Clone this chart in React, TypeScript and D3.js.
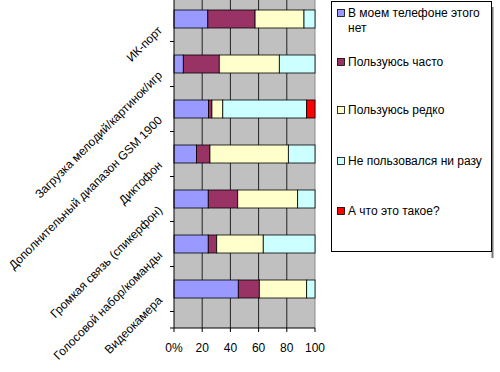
import React from "react";
import * as d3 from "d3";

// categories, top to bottom as shown
const categories = [
  "ИК-порт",
  "Загрузка мелодий/картинок/игр",
  "Дополнительный диапазон GSM 1900",
  "Диктофон",
  "Громкая связь (спикерфон)",
  "Голосовой набор/команды",
  "Видеокамера",
];

const seriesNames = [
  "В моем телефоне этого нет",
  "Пользуюсь часто",
  "Пользуюсь редко",
  "Не пользовался ни разу",
  "А что это такое?",
];

// percent values per category
const noFeature = [24, 6.6, 24.5, 16, 24.3, 24.3, 45.6];
const useOften = [33.5, 25.5, 2.4, 9.5, 20.9, 6, 14.9];
const useRarely = [34.7, 42.6, 7.7, 55.6, 42.5, 33, 33.6];
const neverUsed = [7.8, 25.3, 59.5, 18.9, 12.3, 36.7, 5.9];
const whatIsIt = [0, 0, 5.9, 0, 0, 0, 0];

const xTicks = [0, 20, 40, 60, 80, 100];
const xTickLabels = ["0%", "20", "40", "60", "80", "100"];

const colors = ["#9999FF", "#993366", "#FFFFCC", "#CCFFFF", "#FF0000"];

const font = "Arial, 'Liberation Sans', sans-serif";

// break legend text into lines of at most n chars
function wrap(text: string, n: number) {
  const words = text.split(" ");
  const lines: string[] = [];
  let cur = "";
  words.forEach((w) => {
    const next = cur ? cur + " " + w : w;
    if (next.length > n && cur) {
      lines.push(cur);
      cur = w;
    } else cur = next;
  });
  if (cur) lines.push(cur);
  return lines;
}

export default function App() {
  const width = 500;
  const height = 372;

  const plot = { left: 174, right: 315, top: 0, bottom: 328 };

  const x = d3.scaleLinear().domain([0, 1]).range([plot.left, plot.right]);
  const y = d3
    .scaleBand<string>()
    .domain(categories)
    .range([-3.5, 311.5])
    .paddingInner(0.6)
    .paddingOuter(0.3);

  const allSeries = [noFeature, useOften, useRarely, neverUsed, whatIsIt];
  const rows = categories.map((c, i) => {
    const r: any = { cat: c };
    seriesNames.forEach((s, j) => (r[s] = allSeries[j][i]));
    return r;
  });
  const stacked = d3
    .stack<any>()
    .keys(seriesNames)
    .offset(d3.stackOffsetExpand)(rows);

  const step = y.step();
  const bandEdges = categories.map((c) => (y(c) as number) + y.bandwidth() + step * 0.3);

  const legendY = [13, 62, 110, 161, 211];

  return (
    <div style={{ position: "absolute", left: 0, top: 0 }}>
      <svg width={width} height={height} style={{ display: "block", background: "#fff" }}>
        {/* plot area */}
        <rect
          x={plot.left}
          y={plot.top}
          width={plot.right - plot.left}
          height={plot.bottom - plot.top}
          fill="#C0C0C0"
        />
        {xTicks.slice(1).map((t) => (
          <line
            key={t}
            x1={x(t / 100)}
            x2={x(t / 100)}
            y1={plot.top}
            y2={plot.bottom}
            stroke={t === 100 ? "#8c8c8c" : "#222"}
            strokeWidth={1}
          />
        ))}

        {/* bars */}
        {stacked.map((s, si) =>
          s.map((d, i) => {
            const w = x(d[1]) - x(d[0]);
            if (w <= 0.01) return null;
            return (
              <rect
                key={si + "-" + i}
                x={x(d[0])}
                y={y(categories[i])}
                width={w}
                height={y.bandwidth()}
                fill={colors[si]}
                stroke="#000"
                strokeWidth={0.8}
              />
            );
          })
        )}

        {/* y axis */}
        <line x1={plot.left} x2={plot.left} y1={plot.top} y2={plot.bottom} stroke="#000" />
        {bandEdges.map((e, i) => (
          <line key={i} x1={plot.left - 4} x2={plot.left} y1={e} y2={e} stroke="#000" />
        ))}
        <line x1={plot.left - 4} x2={plot.left} y1={plot.bottom} y2={plot.bottom} stroke="#000" />
        {categories.map((c) => {
          const cy = (y(c) as number) + y.bandwidth() / 2 + 12;
          return (
            <text
              key={c}
              transform={`translate(163,${cy}) rotate(-45)`}
              textAnchor="end"
              fontFamily={font}
              fontSize={12}
              fill="#000"
            >
              {c}
            </text>
          );
        })}

        {/* x axis */}
        <line x1={plot.left} x2={plot.right} y1={plot.bottom} y2={plot.bottom} stroke="#000" />
        {xTicks.map((t, i) => (
          <g key={t}>
            <line
              x1={x(t / 100)}
              x2={x(t / 100)}
              y1={plot.bottom}
              y2={plot.bottom + 4}
              stroke="#000"
            />
            <text
              x={x(t / 100)}
              y={352}
              textAnchor="middle"
              fontFamily={font}
              fontSize={12}
              fill="#000"
            >
              {xTickLabels[i]}
            </text>
          </g>
        ))}

        {/* legend */}
        <line x1={492.5} x2={492.5} y1={7} y2={258} stroke="#777" strokeWidth={2} />
        <rect x={331.5} y={1.5} width={160} height={250} fill="#fff" stroke="#000" />
        {seriesNames.map((s, i) => {
          const lines = wrap(s, 22);
          return (
            <g key={s}>
              <rect
                x={337.5}
                y={legendY[i] - 3.5}
                width={7}
                height={7}
                fill={colors[i]}
                stroke="#000"
                strokeWidth={0.8}
              />
              <text fontFamily={font} fontSize={12} fill="#000">
                {lines.map((l, k) => (
                  <tspan key={k} x={348} y={legendY[i] + 4 + k * 15}>
                    {l}
                  </tspan>
                ))}
              </text>
            </g>
          );
        })}
      </svg>
    </div>
  );
}
